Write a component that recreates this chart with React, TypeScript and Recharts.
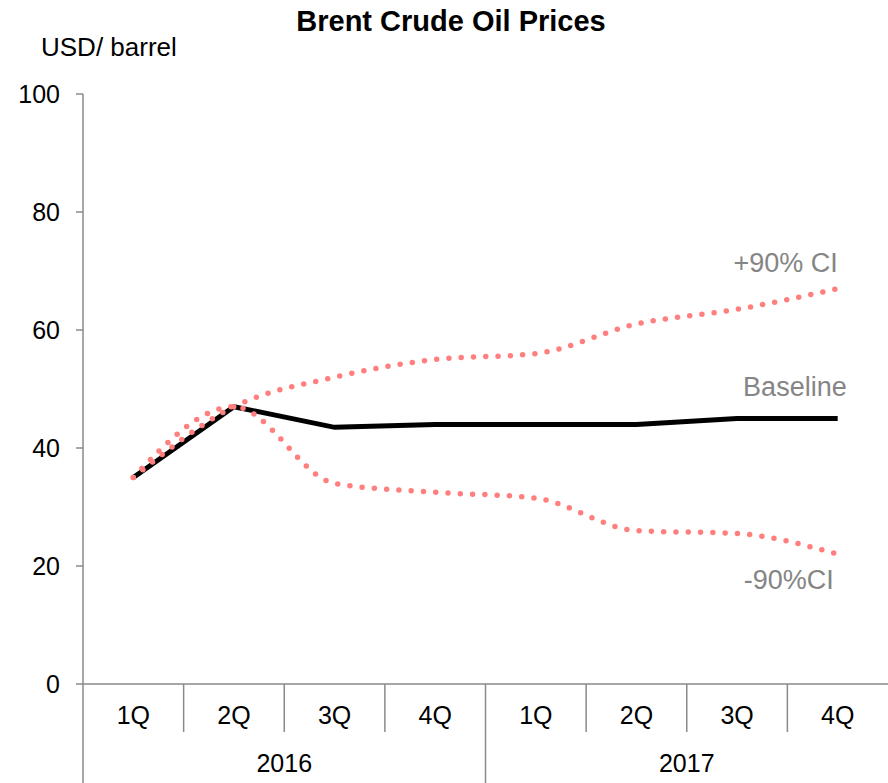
import { LabelList, Line, LineChart, XAxis, YAxis } from 'recharts';

const quarters = ['1Q', '2Q', '3Q', '4Q', '1Q', '2Q', '3Q', '4Q'];
const years = ['2016', '2016', '2016', '2016', '2017', '2017', '2017', '2017'];
const baseline = [35, 47, 43.5, 44, 44, 44, 45, 45];
const upper90 = [35, 47, 52, 55, 56, 61, 63.5, 67];
const lower90 = [35, 47, 34, 32.5, 31.5, 26, 25.5, 22];
const yTicks = [0, 20, 40, 60, 80, 100];

const data = quarters.map((q, i) => ({
  period: `${years[i]} ${q}`,
  baseline: baseline[i],
  upper: upper90[i],
  lower: lower90[i],
}));

const W = 888;
const H = 783;
const Y_AXIS_W = 83;
const PLOT_W = W - Y_AXIS_W;
const BW = PLOT_W / quarters.length;
const AXIS = '#8a8a8a';
const FONT = '"Liberation Sans", Arial, sans-serif';
const CI_RED = '#ff7f7f';
const LABEL_GRAY = '#858585';

// quarter label + separator; the first quarter of each year also carries the year label
const PeriodTick = (props: any) => {
  const { x, y, index } = props;
  const left = x - BW / 2;
  const yearStart = index === 0 || years[index] !== years[index - 1];
  const inYear = years.filter((yr) => yr === years[index]).length;
  return (
    <g>
      <line x1={left} x2={left} y1={y} y2={y + (yearStart ? 99 : 48)} stroke={AXIS} strokeWidth={1.5} />
      <text x={x} y={y + 40} textAnchor="middle" fontSize={25} fill="#000">
        {quarters[index]}
      </text>
      {yearStart && (
        <text x={left + (inYear * BW) / 2} y={y + 88} textAnchor="middle" fontSize={25} fill="#000">
          {years[index]}
        </text>
      )}
    </g>
  );
};

// series name drawn next to the last point only
const endLabel = (text: string, dx: number, dy: number) => (props: any) => {
  const { x, y, index } = props;
  if (index !== quarters.length - 1) return null;
  return (
    <text x={x + dx} y={y + dy} textAnchor="end" fontSize={27} fill={LABEL_GRAY}>
      {text}
    </text>
  );
};

export default function App() {
  return (
    <div style={{ position: 'absolute', left: 0, top: 0, width: W, height: H, fontFamily: FONT, background: '#fff' }}>
      <div
        style={{
          position: 'absolute',
          left: 6,
          width: W + 2,
          top: 3,
          textAlign: 'center',
          fontSize: 29,
          fontWeight: 'bold',
          lineHeight: '36px',
        }}
      >
        Brent Crude Oil Prices
      </div>
      <div style={{ position: 'absolute', left: 41, top: 31, fontSize: 26, lineHeight: '32px' }}>USD/ barrel</div>
      <LineChart width={W} height={H} data={data} margin={{ top: 94, right: 0, bottom: 0, left: 0 }}>
        <XAxis
          dataKey="period"
          padding={{ left: BW / 2, right: BW / 2 }}
          height={99}
          tickSize={0}
          tickMargin={0}
          tickLine={false}
          axisLine={{ stroke: AXIS, strokeWidth: 1.5 }}
          tick={<PeriodTick />}
          interval={0}
        />
        <YAxis
          domain={[0, 100]}
          ticks={yTicks}
          width={Y_AXIS_W}
          tickSize={7}
          tickMargin={16}
          axisLine={{ stroke: AXIS, strokeWidth: 1.5 }}
          tickLine={{ stroke: AXIS, strokeWidth: 1.5 }}
          tick={{ fontSize: 25, fill: '#000' }}
        />
        <Line
          dataKey="baseline"
          type="linear"
          stroke="#000"
          strokeWidth={5}
          dot={false}
          isAnimationActive={false}
        >
          <LabelList dataKey="baseline" content={endLabel('Baseline', 9, -23)} />
        </Line>
        <Line
          dataKey="upper"
          type="monotone"
          stroke={CI_RED}
          strokeWidth={5.5}
          strokeDasharray="0 12.3"
          strokeLinecap="round"
          dot={false}
          isAnimationActive={false}
        >
          <LabelList dataKey="upper" content={endLabel('+90% CI', 0, -17)} />
        </Line>
        <Line
          dataKey="lower"
          type="monotone"
          stroke={CI_RED}
          strokeWidth={5.5}
          strokeDasharray="0 12.3"
          strokeLinecap="round"
          dot={false}
          isAnimationActive={false}
        >
          <LabelList dataKey="lower" content={endLabel('-90%CI', -4, 35)} />
        </Line>
      </LineChart>
    </div>
  );
}
